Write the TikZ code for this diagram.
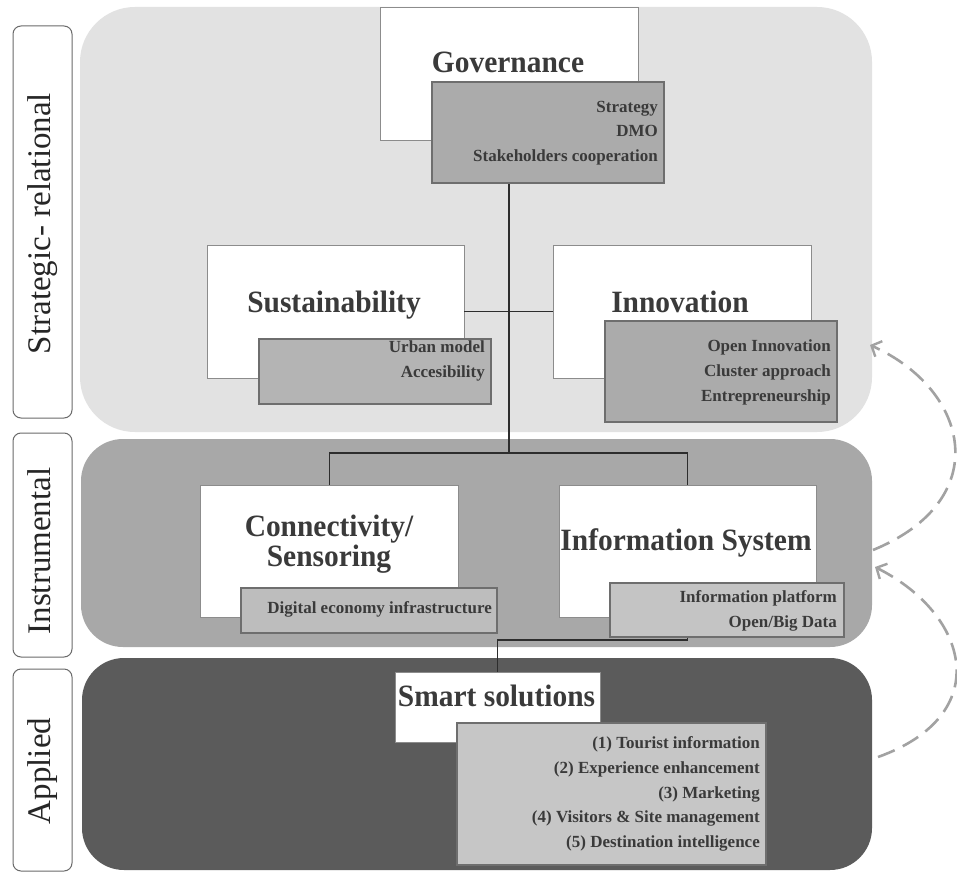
\documentclass[tikz,border=0pt]{standalone}
\usepackage{fontspec}
\setmainfont{Liberation Serif}
\newfontfamily\condserif[FakeStretch=0.95]{Liberation Serif}
\usetikzlibrary{arrows.meta}
\definecolor{panelA}{HTML}{E2E2E2}
\definecolor{panelB}{HTML}{A8A8A8}
\definecolor{panelC}{HTML}{5B5B5B}
\definecolor{txt}{HTML}{3A3A3A}
\definecolor{wbord}{HTML}{8C8C8C}
\definecolor{sbord}{HTML}{6E6E6E}
\definecolor{dashc}{HTML}{A2A2A2}
\definecolor{subA}{HTML}{ABABAB}
\definecolor{subB}{HTML}{B4B4B4}
\definecolor{subC}{HTML}{BDBDBD}
\definecolor{subD}{HTML}{C4C4C4}
\definecolor{subE}{HTML}{C6C6C6}
\definecolor{linec}{HTML}{2D2D2D}
\definecolor{lblbord}{HTML}{6A6A6A}
\begin{document}
\begin{tikzpicture}[x=1pt,y=-1pt,
  panel/.style={rectangle, inner sep=0pt, draw=none},
  lblbox/.style={rectangle, rounded corners=8pt, draw=lblbord, line width=1pt, fill=white, inner sep=0pt},
  lbltext/.style={rotate=90, anchor=base, inner sep=0pt, text=black!85, font=\fontsize{33}{36}\selectfont},
  whitebox/.style={rectangle, fill=white, draw=wbord, line width=0.9pt, inner sep=0pt},
  subbox/.style={rectangle, draw=sbord, line width=1.2pt, inner sep=0pt},
  title/.style={anchor=base, inner sep=0pt, text=txt, font=\condserif\bfseries\fontsize{31}{33}\selectfont},
  item/.style={anchor=base east, inner sep=0pt, text=txt, font=\bfseries\fontsize{17}{20}\selectfont},
  conn/.style={draw=linec, line width=1.2pt},
  dasharrow/.style={draw=dashc, line width=2.6pt, dash pattern=on 18pt off 9pt,
     -{Straight Barb[length=8pt,width=17pt,line width=2.4pt]}}
]
\useasboundingbox (0,0) rectangle (957,874);
\fill[white] (0,0) rectangle (957,874);

% panels
\node[panel, fill=panelA, rounded corners=55pt, minimum width=792pt, minimum height=425pt] (strat) at (476,219.5) {};
\node[panel, fill=panelB, rounded corners=42pt, minimum width=791pt, minimum height=208pt] (instr) at (476.5,543) {};
\node[panel, fill=panelC, rounded corners=42pt, minimum width=790pt, minimum height=212pt] (appl) at (477,764) {};

% level labels
\node[lblbox, minimum width=59pt, minimum height=392pt] (lblS) at (42.5,222) {};
\node[lblbox, minimum width=59pt, minimum height=224pt] (lblI) at (42.5,545) {};
\node[lblbox, minimum width=59pt, minimum height=202pt] (lblA) at (42.5,770) {};
\node[lbltext] (tS) at (50,223.5) {Strategic- relational};
\node[lbltext] (tI) at (50,551) {Instrumental};
\node[lbltext] (tA) at (50,771) {Applied};

% white boxes
\node[whitebox, minimum width=258pt, minimum height=133pt] (gov) at (509,73.5) {};
\node[whitebox, minimum width=257pt, minimum height=133pt] (sust) at (335.5,311.5) {};
\node[whitebox, minimum width=258pt, minimum height=133pt] (innov) at (682,311.5) {};
\node[whitebox, minimum width=257.5pt, minimum height=132pt] (conn) at (329.25,551) {};
\node[whitebox, minimum width=256.5pt, minimum height=132pt] (info) at (687.75,551) {};
\node[whitebox, minimum width=205pt, minimum height=70pt] (smart) at (497.5,707) {};

% connectors
\coordinate (hub) at (509,453);
\coordinate (elbow) at (497.5,640);
\draw[conn] (gov.south -| hub) -- (hub);
\draw[conn] (sust.east) -- (innov.west);
\draw[conn] (hub) -| (conn.north);
\draw[conn] (hub) -| (info.north);
\draw[conn] (info.south) |- (elbow) -- (smart.north);

% sub boxes
\node[subbox, fill=subA, minimum width=232pt, minimum height=101pt] (govsub) at (548,132.5) {};
\node[subbox, fill=subB, minimum width=232pt, minimum height=65pt] (sustsub) at (375,371.5) {};
\node[subbox, fill=subA, minimum width=232pt, minimum height=101pt] (innovsub) at (721,371.5) {};
\node[subbox, fill=subC, minimum width=256pt, minimum height=45pt] (connsub) at (369,610.5) {};
\node[subbox, fill=subD, minimum width=234pt, minimum height=54pt] (infosub) at (727,610) {};
\node[subbox, fill=subE, minimum width=309pt, minimum height=142pt] (smartsub) at (611.5,794) {};

% titles
\node[title] (govT) at (508,73) {Governance};
\node[title] (sustT) at (334,312) {Sustainability};
\node[title] (innovT) at (680,312) {Innovation};
\node[title] (connT1) at (329,536) {Connectivity/};
\node[title] (connT2) at (329,566) {Sensoring};
\node[title] (infoT) at (686,550) {Information System};
\node[title] (smartT) at (496.5,706) {Smart solutions};

% items
\node[item] (g1) at (658,112.5) {Strategy};
\node[item] (g2) at (658,137) {DMO};
\node[item] (g3) at (658,162) {Stakeholders cooperation};
\node[item] (s1) at (485,352) {Urban model};
\node[item] (s2) at (485,377) {Accesibility};
\node[item] (i1) at (831,351) {Open Innovation};
\node[item] (i2) at (831,376) {Cluster approach};
\node[item] (i3) at (831,401) {Entrepreneurship};
\node[item] (c1) at (492,613) {Digital economy infrastructure};
\node[item] (f1) at (837,602) {Information platform};
\node[item] (f2) at (837,627) {Open/Big Data};
\node[item] (m1) at (760,748) {(1) Tourist information};
\node[item] (m2) at (760,773) {(2) Experience enhancement};
\node[item] (m3) at (760,798) {(3) Marketing};
\node[item] (m4) at (760,822) {(4) Visitors \& Site management};
\node[item] (m5) at (760,847) {(5) Destination intelligence};

% feedback arrows
\coordinate (d1s) at (873,550);
\coordinate (d1e) at (870,345);
\coordinate (d2s) at (878,757);
\coordinate (d2e) at (875,567);
\draw[dasharrow] (d1s) .. controls (995,500) and (970,390) .. (d1e);
\draw[dasharrow] (d2s) .. controls (995,715) and (970,615) .. (d2e);
\end{tikzpicture}
\end{document}
